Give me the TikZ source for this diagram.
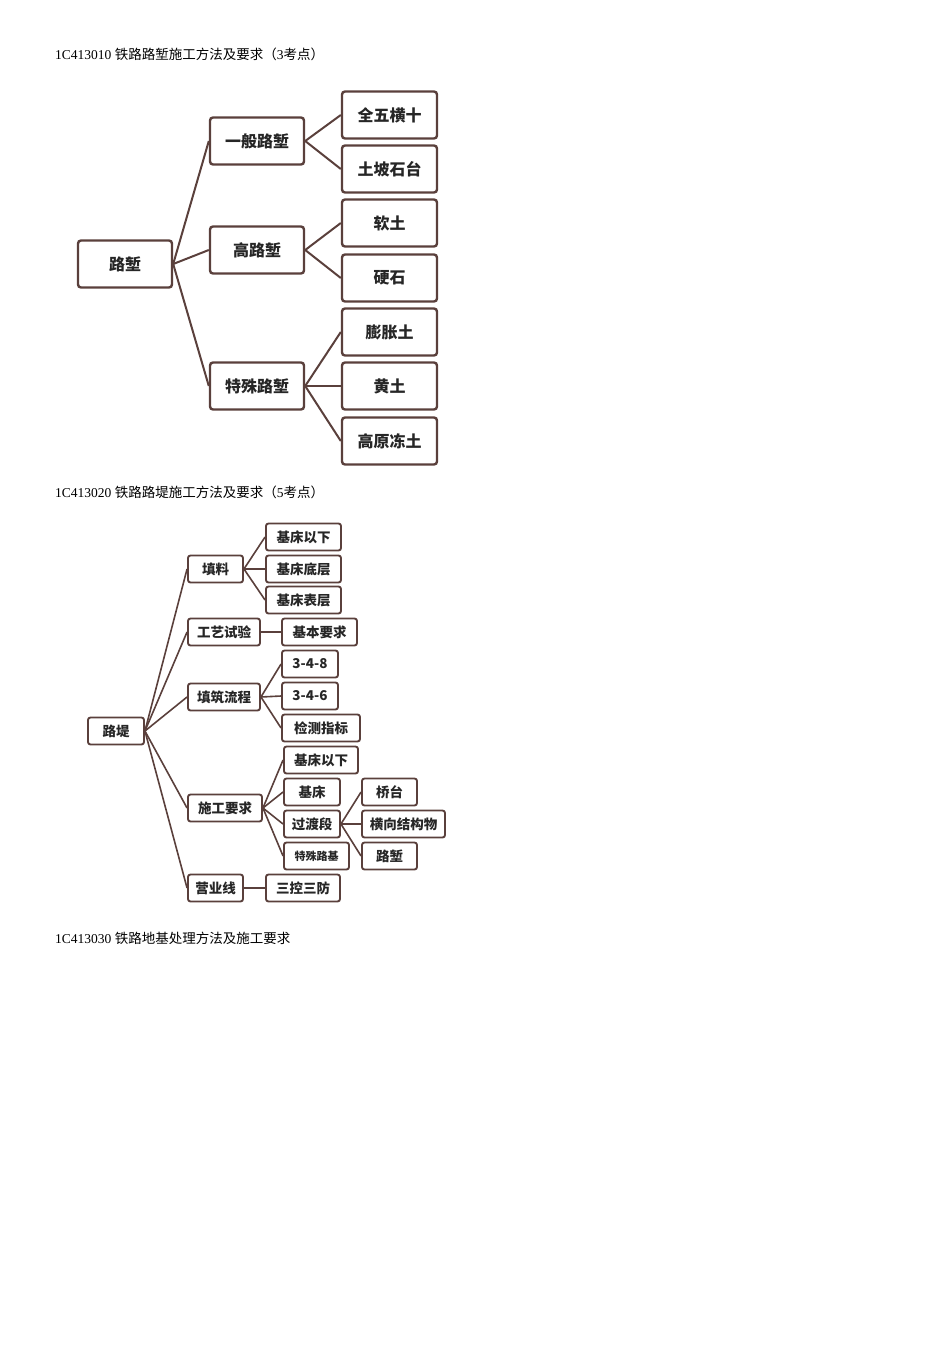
\documentclass[tikz,border=0pt]{standalone}
\usepackage{fontspec}
\setmainfont{Liberation Serif}
\newfontfamily\cjk{Noto Sans CJK SC}
\begin{document}
\begin{tikzpicture}[x=1pt,y=-1pt,
  bx/.style={draw=lc,line width=2.4pt,rounded corners=3pt,fill=white,inner sep=0pt,font=\cjk\bfseries\fontsize{16}{16}\selectfont,text=black!85},
  sx/.style={draw=lc,line width=1.9pt,rounded corners=2.5pt,fill=white,inner sep=0pt,font=\cjk\bfseries\fontsize{13.5}{14}\selectfont,text=black!85},
  ln/.style={draw=lc,line width=2pt},
  lt/.style={draw=lc,line width=1.6pt},
  hd/.style={anchor=west,inner sep=0pt,font=\fontsize{13.5}{14}\selectfont}]
\definecolor{lc}{HTML}{5A403C}
\useasboundingbox (0,0) rectangle (950,1345);
\node[hd] (h1) at (55,54) {1C413010 {\cjk 铁路路堑施工方法及要求（}3{\cjk 考点）}};
\node[hd] (h2) at (55,492) {1C413020 {\cjk 铁路路堤施工方法及要求（}5{\cjk 考点）}};
\node[hd] (h3) at (55,938) {1C413030 {\cjk 铁路地基处理方法及施工要求}};
% diagram 1
\def\B#1#2#3#4#5{\node[bx,minimum width=#3pt,minimum height=47pt] (#1) at (#4,#5) {#2};}
\B{r}{路堑}{94}{125}{264}
\B{a}{一般路堑}{94}{257}{141}
\B{b}{高路堑}{94}{257}{250}
\B{c}{特殊路堑}{94}{257}{386}
\B{a1}{全五横十}{95}{389.5}{115}
\B{a2}{土坡石台}{95}{389.5}{169}
\B{b1}{软土}{95}{389.5}{223}
\B{b2}{硬石}{95}{389.5}{278}
\B{c1}{膨胀土}{95}{389.5}{332}
\B{c2}{黄土}{95}{389.5}{386}
\B{c3}{高原冻土}{95}{389.5}{441}
\foreach \p/\q in {r/a,r/b,r/c,a/a1,a/a2,b/b1,b/b2,c/c1,c/c2,c/c3}
  \draw[ln] (\p.east) -- (\q.west);
% diagram 2
\def\S#1#2#3#4#5{\node[sx,minimum width=#3pt,minimum height=27pt] (#1) at (#4,#5) {#2};}
\S{R}{路堤}{56}{116}{731}
\S{A}{填料}{55}{215.5}{569}
\S{B}{工艺试验}{72}{224}{632}
\S{C}{填筑流程}{72}{224}{697}
\S{D}{施工要求}{74}{225}{808}
\S{E}{营业线}{55}{215.5}{888}
\S{A1}{基床以下}{75}{303.5}{537}
\S{A2}{基床底层}{75}{303.5}{569}
\S{A3}{基床表层}{75}{303.5}{600}
\S{B1}{基本要求}{75}{319.5}{632}
\S{C1}{3-4-8}{56}{310}{664}
\S{C2}{3-4-6}{56}{310}{696}
\S{C3}{检测指标}{78}{321}{728}
\S{D1}{基床以下}{74}{321}{760}
\S{D2}{基床}{56}{312}{792}
\S{D3}{过渡段}{56}{312}{824}
\node[sx,minimum width=65pt,minimum height=27pt,font=\cjk\bfseries\fontsize{11}{12}\selectfont] (D4) at (316.5,856) {特殊路基};
\S{F1}{桥台}{55}{389.5}{792}
\S{F2}{横向结构物}{83}{403.5}{824}
\S{F3}{路堑}{55}{389.5}{856}
\S{E1}{三控三防}{74}{303}{888}
\foreach \p/\q in {R/A,R/B,R/C,R/D,R/E,A/A1,A/A2,A/A3,B/B1,C/C1,C/C2,C/C3,D/D1,D/D2,D/D3,D/D4,D3/F1,D3/F2,D3/F3,E/E1}
  \draw[lt] (\p.east) -- (\q.west);
\end{tikzpicture}
\end{document}
